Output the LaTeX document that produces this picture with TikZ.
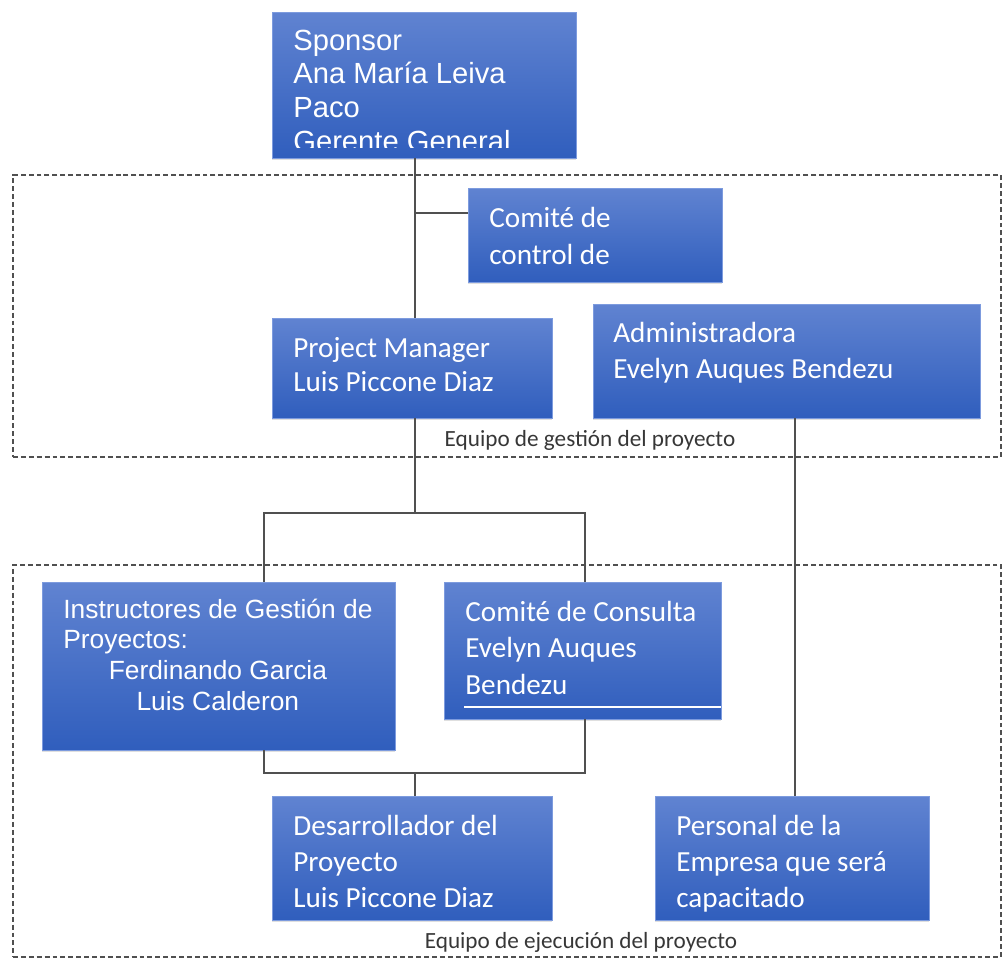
\documentclass[tikz,border=0pt]{standalone}
\usepackage{fontspec}
\setmainfont{Liberation Sans}
\newfontfamily\carlito{Carlito}
\usetikzlibrary{fit,shadows}
\definecolor{boxtop}{RGB}{96,131,209}
\definecolor{boxbot}{RGB}{48,94,189}
\definecolor{boxedge}{RGB}{125,155,222}
\definecolor{linegray}{RGB}{80,80,80}
\definecolor{labelgray}{RGB}{55,55,55}
\newcommand\rows[1]{\begin{tabular}[t]{@{}l@{}}#1\end{tabular}}
\begin{document}
\begin{tikzpicture}[x=0.02cm,y=-0.02cm,
  box/.style={rectangle, inner sep=0pt, draw=boxedge, line width=0.4pt,
    top color=boxtop, bottom color=boxbot,
    drop shadow={opacity=0.25, shadow xshift=0pt, shadow yshift=-1.2pt}},
  frame/.style={rectangle, inner sep=0pt, draw=linegray, line width=0.9pt,
    dash pattern=on 2.8pt off 1.7pt},
  conn/.style={draw=linegray, line width=1.1pt},
  arialtxt/.style={inner sep=0pt, anchor=base west, text=white},
  caltxt/.style={inner sep=0pt, anchor=base west, text=white},
  teamlabel/.style={inner sep=0pt, anchor=base, text=labelgray,
    font=\carlito\fontsize{13.2}{15}\selectfont}]
\useasboundingbox (0,0) rectangle (1003,960);

% team frames
\node[frame, fit={(13,175)(1001,457)}] (gestion) {};
\node[frame, fit={(13,565)(1001,957)}] (ejecucion) {};
\node[teamlabel] (gestionlbl) at (590,446) {Equipo de gestión del proyecto};
\node[teamlabel] (ejecucionlbl) at (581,948) {Equipo de ejecución del proyecto};

% role boxes
\node[box, fit={(272,12)(576,158)}] (sp) {};
\node[box, fit={(468,188)(722,282)}] (ctl) {};
\node[box, fit={(272,318)(552,418)}] (pm) {};
\node[box, fit={(593,304)(980,418)}] (adm) {};
\node[box, fit={(42,582)(395,750)}] (ins) {};
\node[box, fit={(444,582)(721,719)}] (con) {};
\node[box, fit={(272,796)(552,920)}] (dev) {};
\node[box, fit={(655,796)(929,920)}] (per) {};

% junction points of the connectors
\coordinate (t1) at (415,213);
\coordinate (jA) at (415,513);
\coordinate (lx) at (264,513);
\coordinate (rx) at (585,513);
\coordinate (jB) at (415,773);
\coordinate (lb) at (264,773);
\coordinate (rb) at (585,773);
\coordinate (ax) at (795,600);

% connectors
\draw[conn] (sp.south -| t1) -- (pm.north -| t1);
\draw[conn] (t1) -- (ctl.west |- t1);
\draw[conn] (pm.south -| jA) -- (jA);
\draw[conn] (ins.north -| lx) |- (rx) -- (con.north -| rx);
\draw[conn] (ins.south -| lb) |- (rb) -- (con.south -| rb);
\draw[conn] (jB) -- (dev.north -| jB);
\draw[conn] (adm.south -| ax) -- (per.north -| ax);

% texts
\begin{scope}
  \clip (272,12) rectangle (576,147);
  \node[arialtxt, font=\fontsize{16.6}{19.35}\selectfont] (spT) at (293,50)
    {\rows{Sponsor\\Ana María Leiva\\Paco\\Gerente General}};
\end{scope}
\node[caltxt, font=\carlito\fontsize{16.6}{21.6}\selectfont] (ctlT) at (489,227)
  {\rows{Comité de\\control de}};
\node[caltxt, font=\carlito\fontsize{16.6}{19.9}\selectfont] (pmT) at (293,357)
  {\rows{Project Manager\\Luis Piccone Diaz}};
\node[caltxt, font=\carlito\fontsize{16.6}{20.5}\selectfont] (admT) at (613,342)
  {\rows{Administradora\\Evelyn Auques Bendezu}};
\node[arialtxt, font=\fontsize{15}{17.5}\selectfont] (insT) at (63,618)
  {\rows{Instructores de Gestión de\\Proyectos:\\
   \multicolumn{1}{@{}c@{}}{Ferdinando Garcia}\\
   \multicolumn{1}{@{}c@{}}{Luis Calderon}}};
\node[caltxt, font=\carlito\fontsize{16.6}{20.8}\selectfont] (conT) at (465,621)
  {\rows{Comité de Consulta\\Evelyn Auques\\Bendezu}};
\draw[white, line width=1.4pt] (464,707) -- (con.east |- 0,707);
\node[caltxt, font=\carlito\fontsize{16.6}{20.5}\selectfont] (devT) at (293,835)
  {\rows{Desarrollador del\\Proyecto\\Luis Piccone Diaz}};
\node[caltxt, font=\carlito\fontsize{16.6}{20.5}\selectfont] (perT) at (676,835)
  {\rows{Personal de la\\Empresa que será\\capacitado}};
\end{tikzpicture}
\end{document}
